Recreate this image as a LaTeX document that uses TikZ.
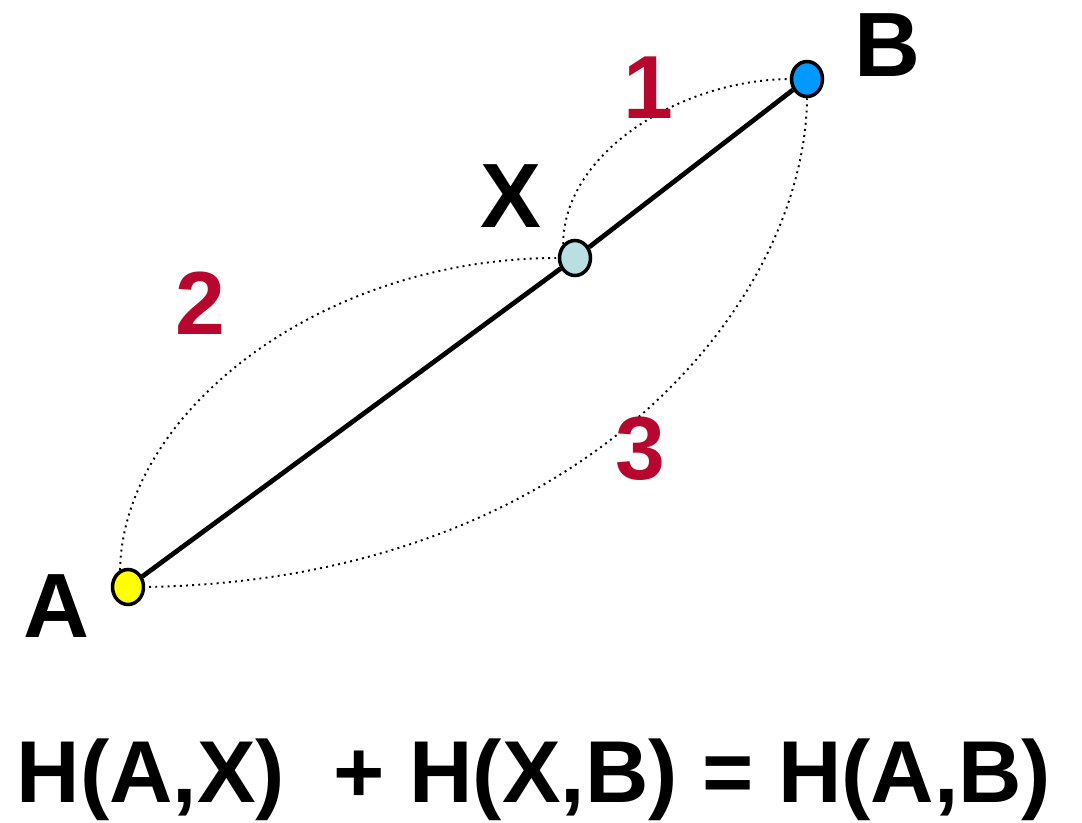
\documentclass[tikz,border=0pt]{standalone}
\usepackage{fontspec}
\setmainfont{Liberation Sans}
\usepackage{tikz}
\usetikzlibrary{shapes.geometric}
\definecolor{ptyellow}{HTML}{FFFF00}
\definecolor{ptcyan}{HTML}{B9DFE2}
\definecolor{ptblue}{HTML}{0099FF}
\definecolor{pathred}{HTML}{B8072F}
\tikzset{
	pt/.style={draw, ellipse, line width=2pt, inner sep=0pt, minimum width=0.62cm, minimum height=0.7cm, fill=#1},
	ptname/.style={font=\fontsize{52}{52}\selectfont\bfseries},
	pathno/.style={font=\fontsize{51}{51}\selectfont\bfseries, text=pathred},
	route/.style={line width=1.1pt, dash pattern=on 1.1pt off 2.4pt},
	chord/.style={line width=2.7pt},
}
\begin{document}
\begin{tikzpicture}[x=0.02cm, y=-0.02cm]
	\useasboundingbox (0,0) rectangle (1082,822);
	\node[pt=ptyellow] (A) at (128,587) {};
	\node[pt=ptcyan] (X) at (575,258) {};
	\node[pt=ptblue] (B) at (807,79) {};
	\draw[chord] (A) -- (X);
	\draw[chord] (X) -- (B);
	% the three routes
	\draw[route] (X.130) .. controls +(0,-90) and +(-111,1) .. (B.west);
	\draw[route] (A.115) .. controls +(3,-157) and +(-238,0) .. (X.west);
	\draw[route] (B.south) .. controls +(-2,204) and +(437,-7) .. (A.east);
	\node[ptname] (lA) at (56,606) {A};
	\node[ptname] (lX) at (511,196) {X};
	\node[ptname] (lB) at (887,45) {B};
	\node[pathno] (n1) at (648,88) {1};
	\node[pathno] (n2) at (200,303) {2};
	\node[pathno] (n3) at (640,449) {3};
	\node[ptname, font=\fontsize{50}{50}\selectfont\bfseries, anchor=base] (eq) at (534,802) {H(A,X)\ \ + H(X,B) = H(A,B)};
\end{tikzpicture}
\end{document}
